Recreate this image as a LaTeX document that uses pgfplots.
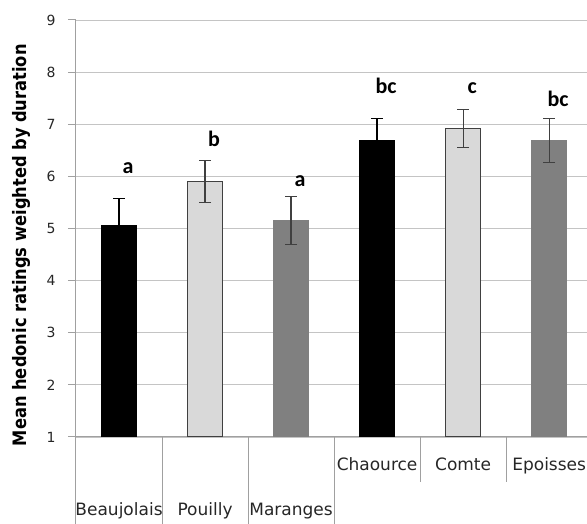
\documentclass[border=0pt]{standalone}
\usepackage{fontspec}
\setmainfont{DejaVu Sans}
\newfontfamily\ylabfont[FakeStretch=0.88]{DejaVu Sans}
\newfontfamily\letfont{Carlito}
\usepackage{pgfplots}
\pgfplotsset{compat=1.18}

\definecolor{lightbar}{HTML}{D9D9D9}
\definecolor{darkbar}{HTML}{808080}
\definecolor{edge}{HTML}{404040}
\definecolor{gridc}{HTML}{C4C4C4}
\definecolor{axc}{HTML}{A0A0A0}

\begin{document}
\begin{tikzpicture}
\begin{axis}[
  at={(76pt,87pt)}, anchor=south west,
  scale only axis, width=511pt, height=417pt,
  xmin=-0.5, xmax=5.44, ymin=1, ymax=9,
  ytick={1,...,9},
  /pgf/number format/assume math mode=true,
  axis x line*=bottom, axis y line*=left,
  axis line style={axc, line width=1pt, -},
  ymajorgrids, grid style={gridc, line width=0.9pt},
  tick align=outside, major tick length=8pt,
  ytick style={axc, line width=1pt},
  yticklabel style={font=\fontsize{14}{16}\selectfont, text=black!85, xshift=-9pt},
  xtick={3,4,5}, xticklabels={Chaource,Comte,Epoisses},
  xtick style={draw=none},
  xticklabel style={font=\fontsize{17}{19}\selectfont, text=black!85, text height=12pt, text depth=3pt, yshift=-10pt},
  extra x ticks={0,1,2}, extra x tick labels={Beaujolais,Pouilly,Maranges},
  extra x tick style={xtick style={draw=none}, xticklabel style={yshift=-44.5pt}},
  ylabel={Mean hedonic ratings weighted by duration},
  ylabel style={at={(axis description cs:-0.106,0.46)}, anchor=center,
    font=\ylabfont\bfseries\fontsize{18.5}{21}\selectfont},
  bar width=35pt, bar shift=0pt,
  clip mode=individual,
  error bars/error bar style={edge, line width=1.2pt},
  error bars/error mark options={rotate=90, mark size=6pt, line width=1.2pt, edge},
]
% black bars
\addplot[ybar, fill=black, draw=black,
  error bars/.cd, y dir=both, y explicit,
  error bar style={black, line width=1.2pt},
  error mark options={rotate=90, mark size=6pt, line width=1.2pt, black}]
  coordinates {(0,5.06) +- (0,0.51) (3,6.69) +- (0,0.42)};
% light grey bars
\addplot[ybar, fill=lightbar, draw=edge, line width=1.2pt,
  error bars/.cd, y dir=both, y explicit]
  coordinates {(1,5.90) +- (0,0.40) (4,6.92) +- (0,0.37)};
% dark grey bars
\addplot[ybar, fill=darkbar, draw=darkbar,
  error bars/.cd, y dir=both, y explicit]
  coordinates {(2,5.15) +- (0,0.46) (5,6.69) +- (0,0.42)};
% significance letters
\addplot[only marks, mark=none, point meta=explicit symbolic, nodes near coords,
  every node near coord/.append style={anchor=base, xshift=9pt, inner sep=0pt,
    font=\letfont\bfseries\fontsize{22}{22}\selectfont}]
  table[meta=l] {
x y l
0 6.05 a
1 6.58 b
2 5.81 a
3 7.59 bc
4 7.59 c
5 7.35 bc
};
% category separators below the axis
\draw[axc, line width=1pt] (axis cs:-0.5,1) -- ++(0pt,-87pt);
\draw[axc, line width=1pt] (axis cs:0.5,1) -- ++(0pt,-87pt);
\draw[axc, line width=1pt] (axis cs:1.5,1) -- ++(0pt,-87pt);
\draw[axc, line width=1pt] (axis cs:2.5,1) -- ++(0pt,-87pt);
\draw[axc, line width=1pt] (axis cs:3.5,1) -- ++(0pt,-45pt);
\draw[axc, line width=1pt] (axis cs:4.5,1) -- ++(0pt,-45pt);
\end{axis}
\pgfresetboundingbox
\path (0,0) rectangle (587pt,524pt);
\end{tikzpicture}
\end{document}
